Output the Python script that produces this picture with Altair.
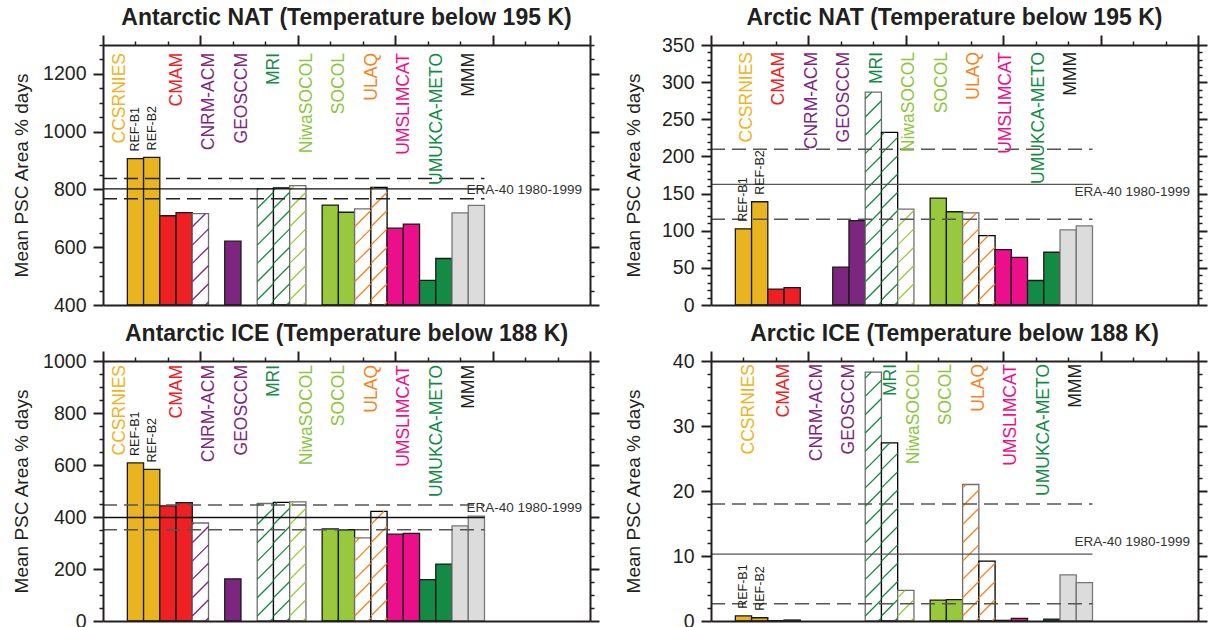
import math
import altair as alt
import pandas as pd

FONT = "Liberation Sans"
INK = "#231f20"

# ---------------- data ----------------
models = ["CCSRNIES", "CMAM", "CNRM-ACM", "GEOSCCM", "MRI", "NiwaSOCOL",
          "SOCOL", "ULAQ", "UMSLIMCAT", "UMUKCA-METO", "MMM"]
runs = ["REF-B1", "REF-B2"]
bar_colors = ["#E8B520", "#EE2024", "#7D2680", "#7D2680", "#138B44", "#98C93C",
              "#98C93C", "#F7821E", "#EC0F8C", "#138B44", "#DCDCDC"]
label_colors = ["#F0B323", "#EE2024", "#7D2680", "#7D2680", "#138B44", "#8DC63F",
                "#8DC63F", "#F7821E", "#EC0F8C", "#138B44", "#231f20"]
hatched = [False, False, True, False, True, True, False, True, False, False, False]

# Mean PSC Area % days (None = no bar)
ant_nat_b1 = [907, 709, 716, 621, 803, 813, 746, 733, 666, 485, 719]
ant_nat_b2 = [911, 720, None, None, 805, None, 721, 807, 680, 561, 745]
arc_nat_b1 = [102.5, 21.5, None, 51, 286.5, 129, 144, 124, 74.5, 33, 101]
arc_nat_b2 = [139, 23.5, None, 113.5, 232.5, None, 125.5, 93.5, 64, 71, 106.5]
ant_ice_b1 = [608, 443, 377, 162, 452, 458, 354, 320, 334, 159, 366]
ant_ice_b2 = [583, 455, None, None, 456, None, 351, 422, 337, 219, 403]
arc_ice_b1 = [0.8, 0.05, None, None, 38.3, 4.7, 3.2, 21.0, 0.1, None, 7.1]
arc_ice_b2 = [0.5, 0.15, None, None, 27.4, None, 3.3, 9.2, 0.4, 0.3, 5.9]

# ERA-40 1980-1999: lower, mean, upper
era_ant_nat = [768, 802, 838]
era_arc_nat = [115.5, 162.5, 209.5]
era_ant_ice = [351, 398, 446]
era_arc_ice = [2.65, 10.3, 18.0]
era_label = "ERA-40 1980-1999"
y_title = "Mean PSC Area % days"

# ---------------- layout constants ----------------
PANEL_W = 487
PANEL_H = 260
N_SLOTS = 30
FIRST_SLOT = 1.5
X_MAJOR = [0, 6, 12, 18, 24, 30]
X_MINOR = [2, 4, 8, 10, 14, 16, 20, 22, 26, 28]
LINE_END = 23.5
HATCH_GAP = 18.3
HATCH_PHASE = 5.0


def bar_tables(b1, b2, ymin, ymax):
    bars, hatch = [], []
    px_slot = PANEL_W / N_SLOTS
    ppu = PANEL_H / (ymax - ymin)
    for i, m in enumerate(models):
        for r, vals in enumerate((b1, b2)):
            v = vals[i]
            if v is None:
                continue
            x0 = FIRST_SLOT + 2 * i + r
            if hatched[i]:
                fill, stroke = "#ffffff", ("#6e6e6e" if r == 0 else "#000000")
            elif m == "MMM":
                fill, stroke = bar_colors[i], "#777777"
            else:
                fill, stroke = bar_colors[i], "#1a1a1a"
            bars.append(dict(model=m, run=runs[r], x=x0, x2=x0 + 1, value=v,
                             base=ymin, fill=fill, stroke=stroke))
            if hatched[i]:
                H = (v - ymin) * ppu
                W = px_slot
                t = HATCH_PHASE - HATCH_GAP * math.ceil((HATCH_PHASE + W) / HATCH_GAP)
                while t < H:
                    u0 = max(0.0, -t)
                    u1 = min(W, H - t)
                    if u1 - u0 > 0.8:
                        hatch.append(dict(hx=x0 + u0 / px_slot, hx2=x0 + u1 / px_slot,
                                          hy=ymin + (t + u0) / ppu, hy2=ymin + (t + u1) / ppu,
                                          color=bar_colors[i]))
                    t += HATCH_GAP
    return pd.DataFrame(bars), pd.DataFrame(hatch)


def ticks_between(lo, hi, step, exclude):
    out = []
    n = int(round((hi - lo) / step))
    for k in range(n + 1):
        v = round(lo + k * step, 6)
        if v not in exclude:
            out.append(v)
    return out


def panel(cfg):
    ymin, ymax = cfg["ymin"], cfg["ymax"]
    majors = cfg["majors"]
    minors = ticks_between(ymin, ymax, cfg["minor_step"], set(majors))
    xs = alt.Scale(domain=[0, N_SLOTS], nice=False, zero=False)
    ys = alt.Scale(domain=[ymin, ymax], nice=False, zero=False)

    ax_top_major = alt.Axis(orient="top", values=X_MAJOR, tickSize=10, tickWidth=2,
                            tickColor=INK, labels=False, domain=True, domainWidth=2,
                            domainColor=INK, grid=False, title=None, minExtent=0,
                            zindex=1)
    ax_top_minor = alt.Axis(orient="top", values=X_MINOR, tickSize=4, tickWidth=1.5,
                            tickColor=INK, labels=False, domain=False, grid=False,
                            title=None, minExtent=0, zindex=1)
    ax_bottom = alt.Axis(orient="bottom", ticks=False, labels=False, domain=True,
                         domainWidth=2, domainColor=INK, grid=False, title=None,
                         minExtent=0, maxExtent=0, zindex=1)
    ax_left_major = alt.Axis(orient="left", values=majors, format="d", tickSize=10,
                             tickWidth=2, tickColor=INK, domain=True, domainWidth=2,
                             domainColor=INK, labels=True, labelFont=FONT,
                             labelFontSize=19.5, labelColor=INK, labelPadding=7,
                             labelFlush=False, labelOverlap=False, labelBound=False,
                             grid=False, title=y_title, titleFont=FONT, titleFontSize=19,
                             titleFontWeight="normal", titleColor=INK,
                             titlePadding=cfg["title_pad"], minExtent=60, maxExtent=60,
                             zindex=1)
    ax_left_minor = alt.Axis(orient="left", values=minors, tickSize=4, tickWidth=1.5,
                             tickColor=INK, labels=False, domain=False, grid=False,
                             title=None, minExtent=0, maxExtent=4, zindex=1)
    ax_right_major = alt.Axis(orient="right", values=majors, tickSize=9, tickWidth=2,
                              tickColor=INK, labels=False, domain=True, domainWidth=2,
                              domainColor=INK, grid=False, title=None, minExtent=0,
                              maxExtent=9, zindex=1)
    ax_right_minor = alt.Axis(orient="right", values=minors, tickSize=4, tickWidth=1.5,
                              tickColor=INK, labels=False, domain=False, grid=False,
                              title=None, minExtent=0, maxExtent=4, zindex=1)

    bars_df, hatch_df = bar_tables(cfg["b1"], cfg["b2"], ymin, ymax)

    bars = alt.Chart(bars_df).mark_rect(strokeWidth=1.3).encode(
        x=alt.X("x:Q", scale=xs, axis=ax_top_major),
        x2="x2:Q",
        y=alt.Y("value:Q", scale=ys, axis=ax_left_major),
        y2="base:Q",
        fill=alt.Fill("fill:N", scale=None),
        stroke=alt.Stroke("stroke:N", scale=None),
    )
    hatch = alt.Chart(hatch_df).mark_rule(strokeWidth=1.3).encode(
        x=alt.X("hx:Q", scale=xs, axis=ax_top_minor),
        x2="hx2:Q",
        y=alt.Y("hy:Q", scale=ys, axis=ax_left_minor),
        y2="hy2:Q",
        color=alt.Color("color:N", scale=None),
    )

    era = cfg["era"]
    era_df = pd.DataFrame({"y": era, "kind": ["dash", "solid", "dash"]})
    solid = alt.Chart(era_df).transform_filter("datum.kind == 'solid'").mark_rule(
        strokeWidth=1.3, color=cfg["solid_col"]).encode(
        x=alt.XDatum(0, type="quantitative", scale=xs, axis=ax_bottom),
        x2=alt.X2Datum(LINE_END),
        y=alt.Y("y:Q", scale=ys, axis=ax_right_major),
    )
    dashed = alt.Chart(era_df).transform_filter("datum.kind == 'dash'").mark_rule(
        strokeWidth=1.5, color=cfg["dash_col"], strokeDash=[14, 7]).encode(
        x=alt.XDatum(0, type="quantitative", scale=xs, axis=None),
        x2=alt.X2Datum(LINE_END),
        y=alt.Y("y:Q", scale=ys, axis=None),
    )

    # model name labels
    lab_rows = []
    for i, m in enumerate(models):
        lx = FIRST_SLOT + 2 * i + 1 + cfg["label_shift"]
        if m in cfg["label_override"]:
            lx = cfg["label_override"][m]
        lab_rows.append(dict(name=m, lx=lx, color=label_colors[i]))
    lab_df = pd.DataFrame(lab_rows)
    mlabels = alt.Chart(lab_df).mark_text(
        angle=270, align="right", baseline="middle", dx=-cfg["label_gap"],
        font=FONT, fontSize=17.5).encode(
        x=alt.X("lx:Q", scale=xs, axis=None),
        y=alt.YDatum(ymax, type="quantitative", scale=ys, axis=ax_right_minor),
        text="name:N",
        color=alt.Color("color:N", scale=None),
    )

    ref_df = pd.DataFrame({
        "name": runs,
        "rx": [FIRST_SLOT + 0.5, FIRST_SLOT + 1.5],
        "ry": [cfg["b1"][0], cfg["b2"][0]],
    })
    reflabels = alt.Chart(ref_df).mark_text(
        angle=270, align="left", baseline="middle", dx=7, font=FONT,
        fontSize=12.5, color="#231f20").encode(
        x=alt.X("rx:Q", scale=xs, axis=None),
        y=alt.Y("ry:Q", scale=ys, axis=None),
        text="name:N",
    )

    era_txt = alt.Chart(pd.DataFrame({"t": [era_label]})).mark_text(
        align="right", baseline="middle", dx=-8, dy=cfg["era_dy"], font=FONT,
        fontSize=13.5, color="#333333").encode(
        x=alt.XDatum(N_SLOTS, type="quantitative", scale=xs, axis=None),
        y=alt.YDatum(era[1], type="quantitative", scale=ys, axis=None),
        text="t:N",
    )

    return alt.layer(bars, hatch, solid, dashed, mlabels, reflabels, era_txt).resolve_axis(
        x="independent", y="independent").properties(
        width=PANEL_W, height=PANEL_H,
        title=alt.Title(cfg["title"], font=FONT, fontSize=23, fontWeight="bold",
                        color=INK, offset=4, frame="group", anchor="middle"),
    )


cfgs = [
    dict(title="Antarctic NAT (Temperature below 195 K)", b1=ant_nat_b1, b2=ant_nat_b2,
         era=era_ant_nat, ymin=400, ymax=1300, majors=[400, 600, 800, 1000, 1200],
         minor_step=50, title_pad=12, label_shift=0.05,
         label_override={"CCSRNIES": 1.05}, label_gap=8, era_dy=1.5,
         solid_col="#111111", dash_col="#222222"),
    dict(title="Arctic NAT (Temperature below 195 K)", b1=arc_nat_b1, b2=arc_nat_b2,
         era=era_arc_nat, ymin=0, ymax=350,
         majors=[0, 50, 100, 150, 200, 250, 300, 350],
         minor_step=10, title_pad=8, label_shift=-0.3,
         label_override={"CCSRNIES": 2.2}, label_gap=7, era_dy=8,
         solid_col="#555555", dash_col="#555555"),
    dict(title="Antarctic ICE (Temperature below 188 K)", b1=ant_ice_b1, b2=ant_ice_b2,
         era=era_ant_ice, ymin=0, ymax=1000, majors=[0, 200, 400, 600, 800, 1000],
         minor_step=50, title_pad=12, label_shift=0.05,
         label_override={"CCSRNIES": 1.05}, label_gap=4, era_dy=-10,
         solid_col="#111111", dash_col="#555555"),
    dict(title="Arctic ICE (Temperature below 188 K)", b1=arc_ice_b1, b2=arc_ice_b2,
         era=era_arc_ice, ymin=0, ymax=40, majors=[0, 10, 20, 30, 40],
         minor_step=2, title_pad=8, label_shift=0.0,
         label_override={"CCSRNIES": 2.35, "MRI": 11.1}, label_gap=3, era_dy=-12.5,
         solid_col="#555555", dash_col="#555555"),
]

p = [panel(c) for c in cfgs]

chart = alt.vconcat(
    alt.hconcat(p[0], p[1], spacing=24),
    alt.hconcat(p[2], p[3], spacing=24),
    spacing=8,
).properties(
    padding={"left": 12, "top": 7, "right": 0, "bottom": 0},
    background="white",
).configure_view(stroke=None)

chart.save("out.html", embed_options={"renderer": "svg", "actions": False})
